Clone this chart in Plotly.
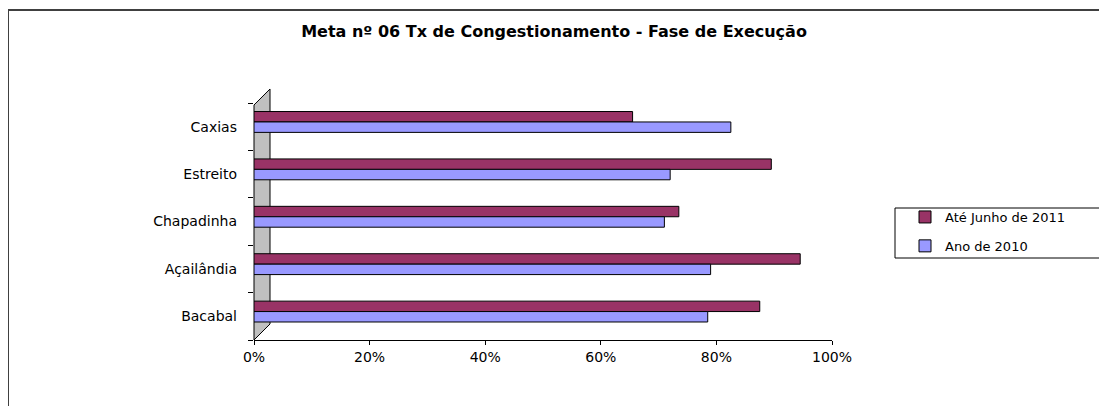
import plotly.graph_objects as go

categories = ["Bacabal", "Açailândia", "Chapadinha", "Estreito", "Caxias"]
ate_junho_2011 = [0.875, 0.945, 0.735, 0.895, 0.655]
ano_2010 = [0.785, 0.79, 0.71, 0.72, 0.825]
x_ticks = [0, 0.2, 0.4, 0.6, 0.8, 1.0]
title_text = "Meta nº 06 Tx de Congestionamento - Fase de Execução"

# The page body adds an 8px offset; work in window pixels and convert.
OFF = 8
W, H = 1107 - OFF, 406 - OFF
L, R, T, B = 254, 832, 103, 340  # plot area in window pixels

def px(xw):
    return (xw - L) / (R - L)

def py(yw):
    return (B - yw) / (B - T)

font_family = "DejaVu Sans, Arial, sans-serif"

fig = go.Figure()
fig.add_trace(go.Bar(
    y=categories, x=ate_junho_2011, orientation="h", name="Até Junho de 2011",
    marker=dict(color="#993366", line=dict(color="#000000", width=1)),
    width=0.22, offset=0.10, legendgroup="a",
))
fig.add_trace(go.Bar(
    y=categories, x=ano_2010, orientation="h", name="Ano de 2010",
    marker=dict(color="#9999FF", line=dict(color="#000000", width=1)),
    width=0.22, offset=-0.12, legendgroup="b",
))

shapes = []
# side wall (3D effect)
shapes.append(dict(
    type="path", xref="paper", yref="paper", layer="below",
    path=f"M 0,0 L 0,{py(105):.4f} L {px(270):.4f},{py(89):.4f} L {px(270):.4f},{py(324):.4f} Z",
    fillcolor="#C0C0C0", line=dict(color="#000000", width=1),
))
# outer chart border (top and left visible)
shapes.append(dict(
    type="rect", xref="paper", yref="paper", layer="below",
    x0=px(8), x1=px(1130), y0=py(430), y1=py(10),
    line=dict(color="#404040", width=2), fillcolor="rgba(0,0,0,0)",
))
# legend box
shapes.append(dict(
    type="rect", xref="paper", yref="paper", layer="below",
    x0=px(895), x1=px(1130), y0=py(258), y1=py(208),
    line=dict(color="#000000", width=1), fillcolor="rgba(0,0,0,0)",
))

fig.update_layout(
    width=W, height=H,
    margin=dict(l=L - OFF, r=W - (R - OFF), t=T - OFF, b=H - (B - OFF), pad=0),
    paper_bgcolor="white", plot_bgcolor="rgba(0,0,0,0)",
    barmode="group",
    showlegend=True,
    title=dict(
        text=f"<b>{title_text}</b>", x=(554 - OFF) / W, xref="container", xanchor="center",
        y=1 - (31 - OFF) / H, yref="container", yanchor="middle",
        font=dict(family=font_family, size=16, color="#000000"),
    ),
    legend=dict(
        x=px(905), y=py(202), xanchor="left", yanchor="top",
        bgcolor="rgba(0,0,0,0)", borderwidth=0,
        font=dict(family=font_family, size=13, color="#000000"),
        traceorder="grouped", itemwidth=30, tracegroupgap=9,
    ),
    xaxis=dict(
        range=[0, 1.0], tickvals=x_ticks, tickformat=".0%",
        showgrid=False, zeroline=False,
        showline=True, linecolor="#000000", linewidth=1,
        ticks="outside", ticklen=4, tickcolor="#000000",
        tickfont=dict(family=font_family, size=14, color="#000000"),
        fixedrange=True,
    ),
    yaxis=dict(
        categoryorder="array", categoryarray=categories,
        range=[-0.5, 4.5], showgrid=False, zeroline=False,
        showline=False,
        ticks="outside", ticklen=5, tickcolor="#000000", tickson="boundaries",
        tickfont=dict(family=font_family, size=14, color="#000000"),
        ticklabelstandoff=16,
        fixedrange=True,
    ),
    shapes=shapes,
)

fig.write_html("out.html")
